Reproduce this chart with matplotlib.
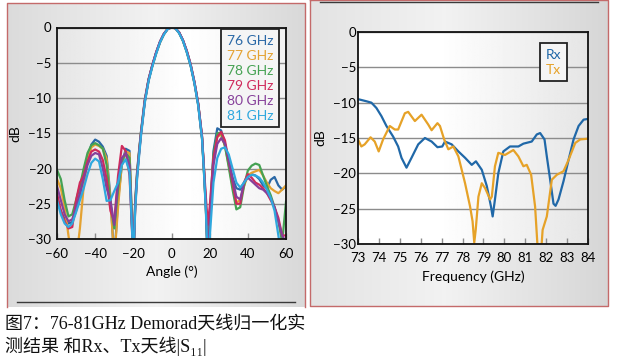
import numpy as np
import matplotlib
matplotlib.use("Agg")
import matplotlib.pyplot as plt

plt.rcParams["font.family"] = ["Lato", "DejaVu Sans"]

# ---- left panel: normalised patterns, 76-81 GHz ----
ANGLE = [-60, -58, -56, -54, -52, -50, -48, -46, -44, -42, -40, -38, -36, -34, -32, -30,
         -28, -26, -24, -22, -20,
         -19, -18, -17, -16, -14, -12, -10, -8, -6, -4, -2, 0, 2, 4, 6, 8, 10, 12, 14, 16, 17, 18, 19,
         20, 22, 24, 26, 28, 30, 32, 34, 36, 38, 40, 42, 44, 46, 48, 50, 52, 54, 56, 58, 60]

gain_76 = [-24.5, -26.0, -27.2, -27.8, -27.6, -26.0, -23.8, -21.2, -18.6, -16.6, -15.9, -16.2, -16.9, -18.2, -24.0, -33.0,
           -24.5, -19.5, -17.2, -17.5, -33.0,
           -24.5, -20.3, -17.5, -14.8, -10.2, -7.3, -5.3, -3.5, -2.0, -0.9, -0.2, 0.0, -0.1, -0.7, -1.8, -3.3, -5.2, -7.7, -10.8, -15.5, -20.0, -25.0, -33.0,
           -27.0, -17.5, -14.3, -14.6, -16.5, -19.0, -21.3, -22.8, -23.0, -22.0, -21.0, -20.8, -21.0, -21.5, -22.4, -22.8, -21.6, -21.2, -22.4, -23.0, -22.5]
gain_77 = [-21.5, -22.8, -25.5, -29.5, -33.0, -33.0, -28.5, -22.5, -18.8, -17.0, -16.6, -16.8, -17.2, -18.6, -24.5, -33.0,
           -25.5, -19.2, -17.6, -17.8, -33.0,
           -24.8, -20.5, -17.6, -14.9, -10.4, -7.4, -5.4, -3.6, -2.1, -0.9, -0.2, 0.0, -0.1, -0.7, -1.9, -3.4, -5.3, -7.8, -10.9, -15.6, -20.2, -25.5, -33.0,
           -28.0, -18.5, -15.5, -15.2, -16.8, -19.5, -22.5, -24.8, -24.5, -22.5, -21.0, -20.6, -20.4, -20.2, -21.0, -22.0, -22.8, -23.2, -23.5, -23.0, -22.4]
gain_78 = [-20.2, -21.5, -24.5, -26.8, -26.5, -24.5, -22.5, -20.0, -17.8, -16.7, -16.4, -16.7, -17.2, -19.5, -25.0, -28.5,
           -23.0, -19.0, -17.8, -18.5, -33.0,
           -25.0, -20.8, -17.8, -15.0, -10.5, -7.5, -5.4, -3.6, -2.1, -1.0, -0.2, 0.0, -0.1, -0.8, -1.9, -3.5, -5.4, -7.9, -11.0, -15.8, -20.5, -25.5, -33.0,
           -28.0, -18.0, -15.0, -14.9, -16.8, -19.8, -23.0, -25.8, -25.5, -22.5, -20.3, -19.6, -19.3, -19.5, -21.0, -22.5, -23.8, -25.5, -27.5, -30.5, -24.7]
gain_79 = [-23.5, -26.0, -27.5, -28.5, -28.3, -24.5, -22.0, -21.0, -19.0, -17.6, -17.3, -17.6, -18.8, -21.5, -26.0, -27.5,
           -21.0, -16.8, -17.5, -21.0, -33.0,
           -25.5, -21.0, -18.0, -15.2, -10.5, -7.4, -5.3, -3.5, -2.0, -0.9, -0.2, 0.0, -0.1, -0.7, -1.8, -3.3, -5.2, -7.7, -10.8, -15.4, -19.8, -24.0, -28.0,
           -25.5, -18.5, -15.5, -14.8, -16.0, -19.0, -22.0, -25.0, -25.0, -22.0, -20.8, -21.3, -22.0, -22.3, -22.8, -23.5, -24.5, -25.5, -27.0, -29.5, -29.5]
gain_80 = [-22.5, -24.5, -26.5, -27.5, -27.2, -25.5, -23.5, -21.5, -19.5, -18.2, -17.8, -18.0, -20.0, -22.8, -24.5, -28.0,
           -22.0, -18.5, -17.8, -19.5, -33.0,
           -25.2, -20.8, -17.8, -15.0, -10.4, -7.4, -5.3, -3.5, -2.0, -0.9, -0.2, 0.0, -0.1, -0.7, -1.8, -3.4, -5.3, -7.8, -10.9, -15.6, -20.2, -25.5, -33.0,
           -28.0, -19.5, -16.5, -15.7, -16.5, -18.8, -21.5, -24.0, -24.4, -22.0, -21.3, -21.8, -22.3, -22.8, -23.0, -23.5, -24.2, -25.5, -27.5, -29.5, -30.5]
gain_81 = [-24.5, -26.5, -27.8, -28.3, -27.8, -26.2, -24.5, -22.8, -20.8, -19.2, -18.6, -19.0, -21.5, -24.6, -24.5, -23.2,
           -22.0, -19.5, -18.7, -20.5, -33.0,
           -25.8, -21.3, -18.3, -15.4, -10.7, -7.6, -5.5, -3.7, -2.1, -1.0, -0.2, 0.0, -0.1, -0.8, -1.9, -3.5, -5.4, -7.9, -11.1, -15.8, -20.5, -26.0, -33.0,
           -30.0, -22.0, -18.5, -17.2, -17.0, -18.0, -20.0, -22.0, -22.7, -22.0, -21.2, -20.9, -21.0, -21.3, -22.0, -23.0, -24.2, -26.0, -29.5, -33.0, -33.0]

pattern_labels = ["76 GHz", "77 GHz", "78 GHz", "79 GHz", "80 GHz", "81 GHz"]
pattern_colors = ["#2a68a6", "#e4a232", "#45a253", "#cf2a5c", "#86409a", "#2fa8de"]

# ---- right panel: |S11| of Rx and Tx antennas ----
rx_freq = [73.0, 73.4, 73.64, 73.88, 74.12, 74.36, 74.68, 74.92, 75.08, 75.32, 75.56, 75.88, 76.2, 76.52,
           76.8, 77.03, 77.16, 77.48, 77.8, 78.12, 78.44, 78.64, 78.92, 79.16, 79.36, 79.44, 79.55, 79.71,
           79.95, 80.27, 80.67, 80.91, 81.31, 81.55, 81.71, 81.92, 82.03, 82.19, 82.35, 82.45, 82.59, 82.83,
           83.07, 83.31, 83.55, 83.79, 84.0]
rx_db = [-9.5, -9.8, -10.0, -10.75, -11.9, -13.3, -14.8, -16.2, -17.8, -19.2, -17.8, -15.9, -15.0, -15.5,
         -16.3, -16.2, -15.5, -15.9, -16.9, -17.8, -18.8, -18.3, -19.5, -21.8, -24.7, -26.1, -23.7, -20.0,
         -16.9, -16.2, -16.2, -15.8, -15.5, -14.5, -14.3, -15.2, -17.6, -20.9, -24.3, -24.6, -23.7, -21.1,
         -18.1, -15.2, -13.3, -12.4, -12.3]

tx_freq = [73.0, 73.16, 73.32, 73.6, 73.8, 73.99, 74.2, 74.52, 74.76, 74.92, 75.24, 75.4, 75.72, 76.04,
           76.36, 76.52, 76.8, 76.92, 77.12, 77.32, 77.56, 77.8, 78.12, 78.36, 78.48, 78.56, 78.63, 78.76,
           78.92, 79.08, 79.32, 79.4, 79.55, 79.71, 80.03, 80.43, 80.67, 80.91, 81.07, 81.28, 81.47, 81.6,
           81.76, 81.83, 82.03, 82.27, 82.51, 82.83, 83.07, 83.39, 83.63, 84.0]
tx_db = [-15.2, -16.2, -15.9, -14.9, -15.5, -16.9, -15.2, -13.3, -13.8, -13.8, -11.5, -11.3, -12.6, -11.7,
         -13.1, -13.9, -12.9, -13.3, -15.2, -16.6, -16.2, -17.6, -21.4, -24.7, -26.8, -29.8, -28.0, -23.3,
         -21.4, -22.1, -23.7, -23.3, -19.0, -17.1, -17.4, -16.7, -17.6, -19.0, -18.8, -20.2, -24.7, -31.0,
         -31.0, -28.0, -26.1, -20.9, -20.2, -19.7, -18.1, -15.7, -15.2, -15.1]

W, H = 619, 359
fig = plt.figure(figsize=(W / 100, H / 100), dpi=100)

# page background: two grey-shaded panels on white
bg = fig.add_axes([0, 0, 1, 1], zorder=-10)
img = np.ones((H, W, 3))


def shade(x0, x1, y0, y1, stops, vals):
    t = (np.arange(x0, x1) - x0) / (x1 - x0)
    g = np.interp(t, stops, vals)
    img[y0:y1, x0:x1, :] = g[None, :, None]


shade(7, 305, 3, 307, [0, 0.5, 1], [0.86, 0.95, 0.85])
shade(310, 608, 0, 306, [0, 0.45, 1], [0.89, 0.95, 0.84])
bg.imshow(img, extent=(0, W, H, 0), interpolation="bilinear")
bg.plot([6.5, 6.5, 305, 305], [307, 3, 3, 307], color="#c46a6a", lw=1.0)
bg.plot([310, 310, 608, 608, 310], [0, 306, 306, 0, 0], color="#c46a6a", lw=1.0)
bg.plot([17, 295], [302, 302], color="#3a3a3a", lw=1.0)
bg.plot([320, 598], [2, 2], color="#3a3a3a", lw=1.0)
bg.set_xlim(0, W)
bg.set_ylim(H, 0)
bg.axis("off")


def style(ax, xlim, xticks, face, tick_pad):
    grad = np.interp(np.linspace(0, 1, 200), face[0], face[1])
    ax.imshow(np.tile(grad, (2, 1)), cmap="gray", vmin=0, vmax=1, extent=(0, 1, 0, 1),
              transform=ax.transAxes, aspect="auto", zorder=-1)
    ax.set_xlim(*xlim)
    ax.set_ylim(-30, 0)
    ax.set_xticks(xticks)
    ax.set_yticks(range(-30, 1, 5))
    ax.grid(axis="y", color="#8c8c8c", lw=1.0)
    ax.set_axisbelow(True)
    ax.tick_params(axis="x", direction="in", length=4, width=1, color="#8c8c8c",
                   pad=tick_pad, labelsize=9.5)
    ax.tick_params(axis="y", length=0, labelsize=9.5)
    for s in ax.spines.values():
        s.set_linewidth(1.3)
        s.set_color("#111111")


def text_legend(ax, anchor):
    leg = ax.legend(loc="upper right", bbox_to_anchor=anchor, handlelength=0, handletextpad=0,
                    labelcolor="linecolor", fontsize=10, labelspacing=0.22, borderpad=0.4,
                    borderaxespad=0, fancybox=False, edgecolor="#222222", facecolor="#f5f5f5",
                    framealpha=1)
    leg.get_frame().set_linewidth(1.3)
    for h in leg.legend_handles:
        h.set_visible(False)


# left
axL = fig.add_axes([57 / W, 1 - 239 / H, 229 / W, 211.5 / H])
style(axL, (-60, 60), range(-60, 61, 20), ([0, 0.55, 1], [0.90, 1.0, 0.95]), 6.5)
axL.tick_params(axis="y", pad=4)
for g, lab, c in zip([gain_76, gain_77, gain_78, gain_79, gain_80, gain_81], pattern_labels, pattern_colors):
    axL.plot(ANGLE, g, color=c, lw=1.6, label=lab)
axL.set_xlabel("Angle (°)", fontsize=10)
axL.set_ylabel("dB", fontsize=10)
axL.xaxis.set_label_coords(0.5, -0.125)
axL.yaxis.set_label_coords(-0.155, 0.5)
text_legend(axL, (0.969, 0.993))

# right
axR = fig.add_axes([358 / W, 1 - 244 / H, 230 / W, 212 / H])
style(axR, (73, 84), range(73, 85), ([0, 0.35, 1], [1.0, 1.0, 0.90]), 6)
axR.tick_params(axis="y", pad=1.5)
axR.plot(rx_freq, rx_db, color="#2068a8", lw=1.6, label="Rx")
axR.plot(tx_freq, tx_db, color="#e6a228", lw=1.6, label="Tx")
axR.set_xlabel("Frequency (GHz)", fontsize=10)
axR.set_ylabel("dB", fontsize=10)
axR.xaxis.set_label_coords(0.5, -0.127)
axR.yaxis.set_label_coords(-0.139, 0.5)
text_legend(axR, (0.909, 0.948))

# caption
cap_font = ["Liberation Serif", "DejaVu Serif", "Noto Sans CJK SC"]
fig.text(5 / W, 1 - 324 / H, "图7：76-81GHz Demorad天线归一化实", family=cap_font, fontsize=13,
         va="center", ha="left", color="#111111")
fig.text(5 / W, 1 - 346 / H, "测结果 和Rx、Tx天线|S₁₁|", family=cap_font, fontsize=13,
         va="center", ha="left", color="#111111")

fig.savefig("out.png", dpi=100)
